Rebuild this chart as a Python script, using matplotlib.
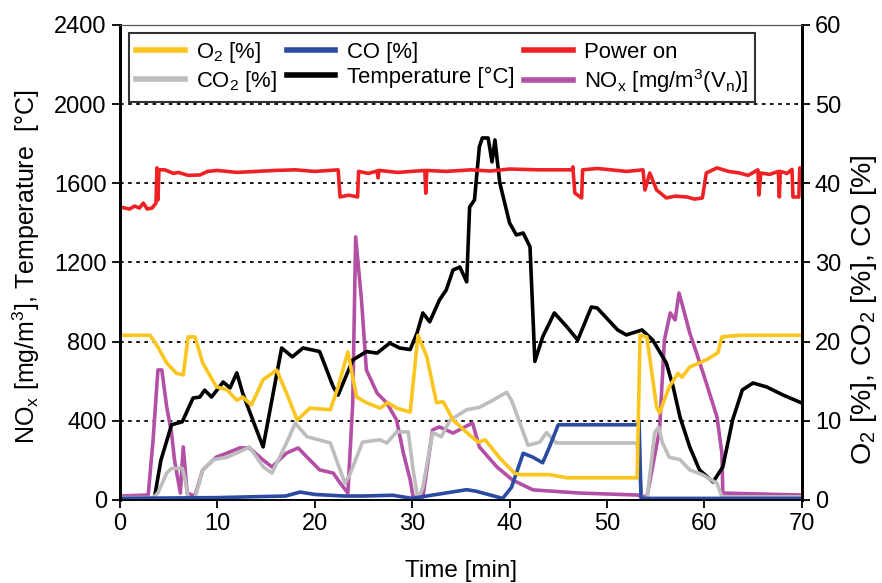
import matplotlib
matplotlib.use('Agg')
import matplotlib.pyplot as plt
import numpy as np

plt.rcParams['font.family'] = ['Liberation Sans', 'DejaVu Sans']
plt.rcParams['mathtext.default'] = 'regular'

# temperature [°C] (left axis)
t_temp = [3.5, 4.2, 5.3, 6.4, 7.5, 8.2, 8.7, 9.4, 10.6, 11.3, 12.0, 12.6, 13.9, 14.7, 15.6, 16.6,
          17.7, 18.8, 20.5, 21.9, 22.4, 23.9, 25.3, 26.4, 27.7, 28.7, 29.8, 30.5, 31.1, 31.8, 32.8,
          33.5, 34.2, 34.9, 35.6, 35.9, 36.4, 36.9, 37.2, 37.8, 38.2, 38.5, 39.0, 40.0, 40.7, 41.4,
          42.1, 42.6, 43.4, 44.6, 45.9, 47.0, 48.4, 49.0, 51.1, 52.0, 53.6, 54.7, 56.1, 56.8, 57.5,
          58.5, 59.5, 60.9, 61.9, 62.9, 63.9, 65.0, 66.4, 68.1, 70.0]
temp = [0, 200, 380, 395, 515, 520, 555, 520, 596, 566, 642, 540, 370, 268, 505, 768,
        723, 768, 750, 571, 530, 707, 750, 742, 793, 768, 760, 843, 945, 900, 1010,
        1061, 1162, 1177, 1102, 1480, 1516, 1784, 1829, 1829, 1708, 1819, 1602, 1400, 1339, 1349,
        1279, 700, 824, 945, 874, 808, 975, 970, 859, 834, 859, 808, 692, 571, 419,
        268, 152, 91, 167, 404, 556, 591, 571, 530, 490]

# NOx [mg/m3] (left axis)
t_nox = [0, 2.9, 3.4, 3.9, 4.3, 4.8, 5.3, 5.6, 6.2, 6.5, 6.9, 7.7, 8.5, 9.9, 11.0, 12.3, 13.3,
         14.7, 15.6, 17.1, 18.3, 19.2, 20.5, 21.9, 22.6, 23.4, 23.9, 24.2, 24.8, 25.3, 26.4, 27.4,
         28.4, 29.1, 29.8, 30.1, 31.1, 32.1, 32.8, 34.2, 36.2, 36.9, 38.7, 40.3, 42.4, 47.2, 53.1,
         54.1, 55.4, 55.9, 56.5, 57.0, 57.4, 57.8, 58.5, 59.2, 60.2, 61.3, 61.8, 61.9, 70.0]
nox = [20, 25, 303, 657, 657, 470, 338, 202, 35, 268, 35, 20, 152, 217, 237, 263, 263,
       202, 167, 237, 263, 217, 152, 136, 86, 35, 490, 1329, 1010, 657, 540, 490,
       404, 237, 101, 15, 15, 354, 369, 338, 389, 268, 167, 101, 51, 35, 25,
       15, 354, 808, 945, 910, 1046, 975, 844, 743, 591, 419, 237, 35, 25]

# power on (left axis)
t_pow = [0, 1.0, 1.5, 2.0, 2.4, 2.8, 3.3, 3.7, 3.8, 3.9, 4.0, 4.6, 5.5, 6.0, 7.0, 8.2, 9.0, 10.0,
         12.0, 14.0, 16.0, 18.0, 20.0, 22.4, 22.6, 23.5, 24.4, 24.5, 25.5, 26.4, 26.5, 26.6, 28.5,
         31.3, 31.4, 31.5, 33.5, 36.0, 38.0, 40.0, 43.0, 46.4, 46.5, 46.7, 47.4, 47.5, 49.0, 50.0,
         52.0, 53.7, 53.9, 54.4, 55.1, 56.1, 57.0, 58.2, 59.0, 59.8, 60.2, 61.3, 62.5, 63.6, 64.5,
         65.5, 65.6, 65.8, 66.7, 67.6, 67.7, 67.8, 68.5, 69.0, 69.1, 69.7, 69.8, 70.0]
power = [1480, 1470, 1485, 1475, 1500, 1470, 1475, 1500, 1678, 1516, 1668, 1668, 1650, 1655, 1640, 1642, 1660, 1665,
         1655, 1660, 1665, 1668, 1660, 1668, 1531, 1540, 1531, 1660, 1650, 1662, 1627, 1665, 1655,
         1665, 1550, 1665, 1660, 1668, 1662, 1672, 1668, 1668, 1683, 1551, 1526, 1668, 1675, 1670,
         1660, 1668, 1566, 1652, 1566, 1526, 1535, 1531, 1520, 1526, 1652, 1678, 1660, 1652, 1640,
         1668, 1541, 1652, 1645, 1660, 1531, 1660, 1650, 1670, 1531, 1531, 1678, 1660]

# O2 [%] (right axis)
t_o2 = [0, 3.1, 3.9, 4.8, 5.8, 6.5, 7.0, 7.7, 8.5, 9.9, 11.0, 12.0, 12.6, 13.5, 14.7, 16.1, 17.1,
        18.2, 19.5, 21.6, 22.4, 23.4, 24.3, 25.3, 26.7, 27.5, 28.4, 29.8, 30.6, 31.5, 32.5, 33.2,
        34.2, 35.9, 36.8, 37.5, 39.0, 40.5, 41.1, 44.1, 45.9, 53.1, 53.4, 54.1, 55.1, 55.4, 56.4,
        57.3, 57.7, 58.5, 60.2, 61.4, 61.8, 63.6, 70.0]
o2 = [20.8, 20.8, 19.3, 17.3, 16.0, 15.8, 20.6, 20.6, 17.3, 14.3, 13.9, 12.6, 13.0, 12.0, 15.2, 16.4, 13.5,
      10.1, 11.6, 11.4, 14.3, 18.7, 13.0, 12.3, 11.6, 12.3, 11.6, 11.1, 20.8, 18.1, 12.3, 12.4,
      10.1, 8.2, 7.3, 7.6, 5.3, 3.4, 3.2, 3.2, 2.8, 2.8, 20.8, 20.6, 11.7, 11.0, 14.3,
      16.0, 15.5, 16.8, 17.7, 18.6, 20.6, 20.8, 20.8]

# CO2 [%] (right axis)
t_co2 = [0, 3.4, 3.9, 4.8, 5.3, 6.4, 6.7, 7.0, 7.7, 8.5, 9.6, 11.0, 12.3, 13.3, 14.7, 15.6, 17.1,
         18.0, 19.2, 21.6, 23.1, 23.6, 24.9, 26.7, 27.4, 28.4, 29.6, 30.1, 30.6, 31.1, 32.1, 33.0,
         33.9, 35.6, 36.9, 38.3, 39.7, 40.2, 41.9, 43.1, 43.8, 44.8, 47.2, 53.1, 53.6, 54.1, 54.9,
         55.3, 55.7, 56.4, 57.5, 58.5, 59.8, 61.3, 61.8, 70.0]
co2 = [0.3, 0.3, 0.9, 3.4, 4.0, 4.0, 2.5, 0.2, 0.2, 3.8, 5.1, 5.4, 6.1, 6.7, 4.2, 3.4, 7.2,
       9.7, 8.0, 7.2, 2.1, 3.2, 7.3, 7.6, 7.2, 8.6, 8.6, 3.8, 0.0, 1.6, 8.5, 8.0,
       10.1, 11.4, 11.7, 12.6, 13.6, 12.6, 6.9, 7.3, 8.5, 7.2, 7.2, 7.2, 0.0, 0.0, 8.5,
       9.2, 7.2, 5.4, 5.1, 3.8, 3.2, 2.1, 0.4, 0.4]

# CO [%] (right axis)
t_co = [0, 10.0, 17.0, 18.5, 20.0, 23.0, 25.0, 28.0, 30.0, 32.0, 35.6, 36.6, 39.3, 40.2, 41.4,
        42.4, 43.4, 44.1, 45.0, 47.2, 53.1, 53.3, 53.5, 54.0, 70.0]
co = [0.2, 0.3, 0.5, 1.0, 0.7, 0.5, 0.5, 0.6, 0.2, 0.6, 1.3, 1.1, 0.2, 1.6, 5.9,
      5.4, 4.7, 6.7, 9.5, 9.5, 9.5, 10.0, 0.2, 0.2, 0.2]

fig = plt.figure(figsize=(8.82, 5.83), dpi=100)
ax = fig.add_axes([0.136, 0.1424, 0.773, 0.8148])
ax2 = ax.twinx()

lw = 2.6
l_nox, = ax.plot(t_nox, nox, color='#B350A6', lw=lw, label='NO$_x$ [mg/m$^3$(V$_n$)]')
l_temp, = ax.plot(t_temp, temp, color='black', lw=lw, label='Temperature [°C]')
l_pow, = ax.plot(t_pow, power, color='#EE2224', lw=lw, label='Power on')
l_co2, = ax2.plot(t_co2, co2, color='#BDBDBD', lw=lw, label='CO$_2$ [%]')
l_co, = ax2.plot(t_co, co, color='#2B4BA3', lw=lw, label='CO [%]')
l_o2, = ax2.plot(t_o2, o2, color='#F9C51E', lw=lw, label='O$_2$ [%]')

ax.set_xlim(0, 70)
ax.set_ylim(0, 2400)
ax2.set_ylim(0, 60)
ax.set_xticks(np.arange(0, 71, 10))
ax.set_yticks(np.arange(0, 2401, 400))
ax2.set_yticks(np.arange(0, 61, 10))

for y in range(400, 2001, 400):
    ax.axhline(y, color='black', lw=1.3, ls=(0, (2, 2.5)), zorder=0)

fs = 17
ax.tick_params(axis='both', direction='out', length=6, width=1.3, labelsize=fs)
ax2.tick_params(axis='y', direction='out', length=6, width=1.3, labelsize=fs)
for a in (ax, ax2):
    a.spines['left'].set_linewidth(2)
    a.spines['right'].set_linewidth(2)
    a.spines['bottom'].set_linewidth(1.2)
    a.spines['top'].set_linewidth(0.8)
    a.spines['top'].set_color('#555555')

ax.set_xlabel('Time [min]', fontsize=17.5, labelpad=18)
ax.set_ylabel('NO$_x$ [mg/m$^3$], Temperature  [°C]', fontsize=18)
ax.yaxis.set_label_coords(-0.114, 0.49)
ax2.set_ylabel('O$_2$ [%], CO$_2$ [%], CO [%]', fontsize=20.5)
ax2.yaxis.set_label_coords(1.07, 0.40)

handles = [l_o2, l_co2, l_co, l_temp, l_pow, l_nox]
leg = ax2.legend(handles=handles, ncol=3, loc='upper left', bbox_to_anchor=(0.014, 0.983),
                 fontsize=15.9, frameon=True, fancybox=False, edgecolor='black',
                 handlelength=2.2, handletextpad=0.5, columnspacing=0.45,
                 borderpad=0.3, labelspacing=0.2, borderaxespad=0)
leg.get_frame().set_linewidth(1.5)
for h in leg.get_lines():
    h.set_linewidth(4)

fig.savefig('out.png', dpi=100)
